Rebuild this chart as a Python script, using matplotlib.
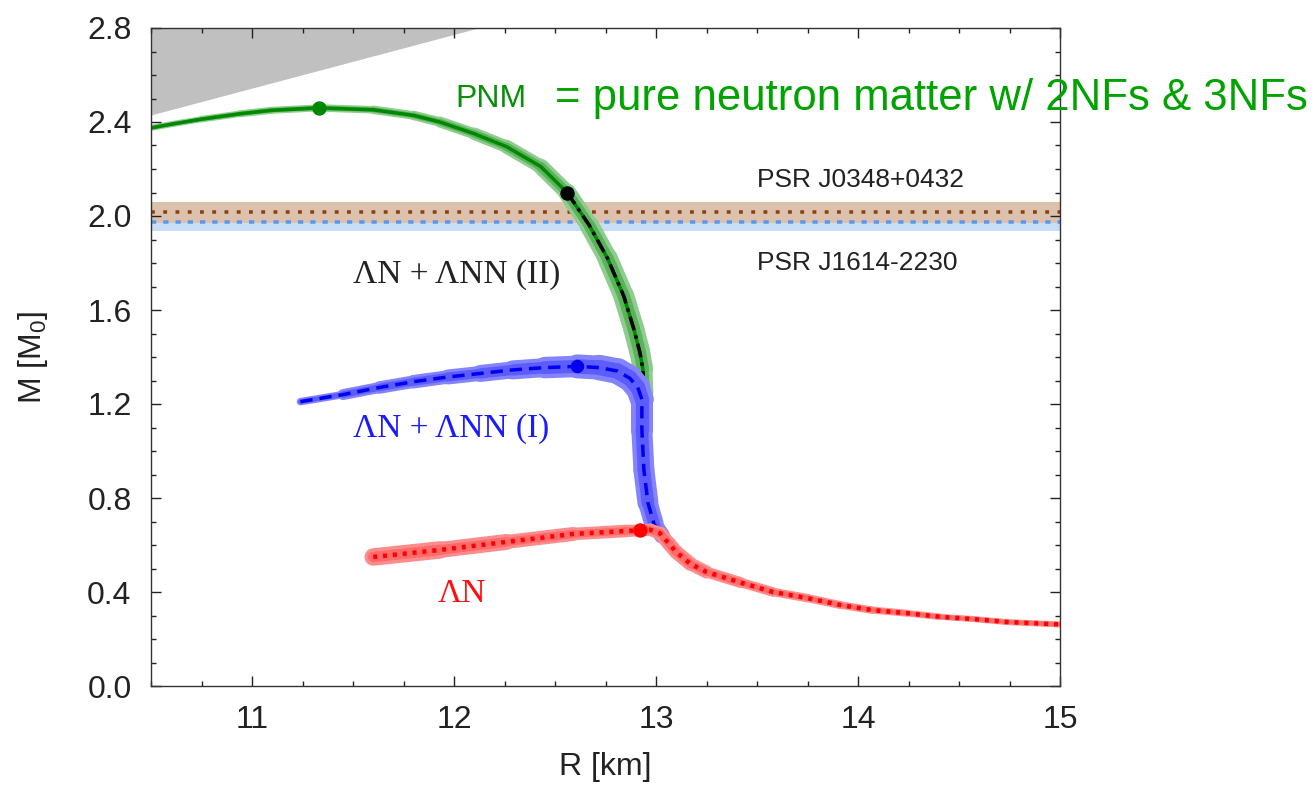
import numpy as np
import matplotlib
matplotlib.use("Agg")
import matplotlib.pyplot as plt
from matplotlib.collections import LineCollection
from matplotlib.ticker import MultipleLocator

plt.rcParams['font.family'] = ['Liberation Sans', 'DejaVu Sans']
plt.rcParams['mathtext.fontset'] = 'custom'
plt.rcParams['mathtext.rm'] = 'Liberation Sans'
plt.rcParams['mathtext.it'] = 'Liberation Sans'

# ---------------- data ----------------
causal_R = [10.5, 12.12]
causal_M = [2.43, 2.80]

psr_names = ["PSR J0348+0432", "PSR J1614-2230"]
psr_mass = [2.015, 1.975]
psr_err = [0.043, 0.040]

# pure neutron matter (PNM)
pnm_R = [10.50, 10.61, 10.75, 10.94, 11.10, 11.33, 11.60, 11.80, 11.93, 12.10,
         12.26, 12.43, 12.56, 12.67, 12.76, 12.84, 12.89, 12.92, 12.935, 12.94,
         12.94, 12.95, 12.97, 13.00, 13.04, 13.08, 13.12, 13.17, 13.25, 13.42,
         13.58, 13.75, 13.91, 14.07, 14.24, 14.41, 14.57, 14.74, 15.00]
pnm_M = [2.375, 2.392, 2.412, 2.435, 2.45, 2.46, 2.452, 2.428, 2.40, 2.35,
         2.295, 2.21, 2.10, 1.96, 1.82, 1.66, 1.52, 1.42, 1.35, 1.25,
         1.10, 0.95, 0.80, 0.70, 0.63, 0.59, 0.555, 0.52, 0.485, 0.44,
         0.40, 0.374, 0.345, 0.323, 0.31, 0.294, 0.285, 0.272, 0.262]
pnm_max = (11.33, 2.46)

# Lambda N + Lambda NN (II)
ln2_R = [12.56, 12.67, 12.76, 12.84, 12.89, 12.92, 12.935, 12.94, 12.94, 12.95,
         12.97, 13.00, 13.04, 13.08, 13.12, 13.17, 13.25, 13.42, 13.58, 13.75,
         13.91, 14.07, 14.24, 14.41, 14.57, 14.74, 15.00]
ln2_M = [2.10, 1.96, 1.82, 1.66, 1.52, 1.42, 1.35, 1.25, 1.10, 0.95,
         0.80, 0.70, 0.63, 0.59, 0.555, 0.52, 0.485, 0.44, 0.40, 0.374,
         0.345, 0.323, 0.31, 0.294, 0.285, 0.272, 0.262]
ln2_onset = (12.56, 2.10)

# Lambda N + Lambda NN (I)
ln1_R = [11.24, 11.45, 11.63, 11.80, 11.97, 12.13, 12.29, 12.45, 12.61, 12.72,
         12.81, 12.87, 12.91, 12.93, 12.93, 12.94, 12.96, 12.99, 13.03, 13.07,
         13.12, 13.17, 13.25, 13.42, 13.58, 13.75, 13.91, 14.07, 14.24, 14.41,
         14.57, 14.74, 15.00]
ln1_M = [1.21, 1.24, 1.27, 1.295, 1.315, 1.33, 1.345, 1.355, 1.36, 1.355,
         1.34, 1.31, 1.27, 1.22, 1.09, 0.92, 0.78, 0.69, 0.64, 0.60,
         0.555, 0.52, 0.485, 0.44, 0.40, 0.374, 0.345, 0.323, 0.31, 0.294,
         0.285, 0.272, 0.262]
ln1_max = (12.61, 1.36)

# Lambda N
ln_R = [11.60, 11.93, 12.26, 12.59, 12.86, 12.92, 12.97, 13.02, 13.06, 13.10,
        13.17, 13.25, 13.42, 13.58, 13.75, 13.91, 14.07, 14.24, 14.41, 14.57,
        14.74, 15.00]
ln_M = [0.549, 0.579, 0.613, 0.647, 0.66, 0.662, 0.665, 0.65, 0.61, 0.57,
        0.52, 0.485, 0.44, 0.40, 0.374, 0.345, 0.323, 0.31, 0.294, 0.285,
        0.272, 0.262]
ln_max = (12.92, 0.662)

# uncertainty band widths (pixels) along each curve
pnm_band = [6, 6, 6, 7, 7, 7, 8, 9, 10, 12, 13, 15, 17, 19, 20, 21, 21, 21, 20, 18,
            16, 14, 12, 10, 9, 8, 8, 7, 7, 6, 6, 5, 5, 5, 5, 5, 5, 5, 5]
ln1_band = [5, 10, 12, 13, 14, 16, 18, 20, 23, 25, 26, 26, 25, 23, 21, 21, 21, 18, 14, 12,
            10, 9, 8, 7, 6, 6, 5, 5, 5, 4, 4, 4, 4]
ln_band = [18, 17, 15, 13, 12, 12, 12, 13, 14, 14, 14, 12, 10, 9, 8, 8, 7, 7, 6, 6,
           6, 6]

# ---------------- figure ----------------
DPI = 100
W, H = 1316, 788
fig = plt.figure(figsize=(W / DPI, H / DPI), dpi=DPI)
ax = fig.add_axes([151 / W, 1 - 686 / H, (1060 - 151) / W, (686 - 28) / H])
PX = 72.0 / DPI


def band(R, M, widths, color, frac, z):
    pts = np.column_stack([R, M])
    segs = np.stack([pts[:-1], pts[1:]], axis=1)
    w = np.asarray(widths, dtype=float)
    lw = 0.5 * (w[:-1] + w[1:]) * frac * PX
    lc = LineCollection(segs, linewidths=lw, colors=color, capstyle='round',
                        joinstyle='round', zorder=z)
    ax.add_collection(lc)


# causality region
ax.fill_between(causal_R, causal_M, 2.8, color='#c0c0c0', lw=0, zorder=0.5)

# pulsar bands
ax.axhspan(psr_mass[1] - psr_err[1], psr_mass[1] + psr_err[1], color='#c9ddf7', lw=0, zorder=0.6)
ax.axhspan(psr_mass[0] - psr_err[0], psr_mass[0] + psr_err[0], color='#dcc2ad', lw=0, zorder=0.7)
ax.axhline(psr_mass[0], color='#8b3f10', lw=3.5 * PX, ls=(0, (1.1, 2.4)), zorder=0.8)
ax.axhline(psr_mass[1], color='#5b96ee', lw=3.5 * PX, ls=(0, (1.5, 2.0)), zorder=0.8)

# PNM
band(pnm_R, pnm_M, pnm_band, '#8fcc8f', 1.0, 1.0)
band(pnm_R, pnm_M, pnm_band, '#5cb25c', 0.6, 1.1)
ax.plot(pnm_R, pnm_M, color='#008800', lw=3.5 * PX, solid_capstyle='butt', zorder=1.2)
ax.plot([pnm_max[0]], [pnm_max[1]], 'o', color='#008800', ms=13 * PX, zorder=1.3)

# Lambda N + Lambda NN (II)
ax.plot(ln2_R, ln2_M, color='black', lw=3.5 * PX, ls=(0, (4, 1.5, 1, 1.5)), zorder=1.4)
ax.plot([ln2_onset[0]], [ln2_onset[1]], 'o', color='black', ms=13 * PX, zorder=1.5)

# Lambda N + Lambda NN (I)
band(ln1_R, ln1_M, ln1_band, '#8484ff', 1.0, 2.0)
band(ln1_R, ln1_M, ln1_band, '#5c5cff', 0.6, 2.1)
ax.plot(ln1_R, ln1_M, color='#0000ee', lw=3.5 * PX, ls=(0, (3.5, 2)), zorder=2.2)
ax.plot([ln1_max[0]], [ln1_max[1]], 'o', color='#0000ee', ms=12 * PX, zorder=2.3)

# Lambda N
band(ln_R, ln_M, ln_band, '#ff8c8c', 1.0, 3.0)
band(ln_R, ln_M, ln_band, '#ff6a6a', 0.6, 3.1)
ax.plot(ln_R, ln_M, color='#ff0000', lw=4.5 * PX, ls=(0, (0.9, 1.3)), zorder=3.2)
ax.plot([ln_max[0]], [ln_max[1]], 'o', color='#ff0000', ms=13 * PX, zorder=3.3)

# ---------------- axes ----------------
ax.set_xlim(10.5, 15)
ax.set_ylim(0, 2.8)
ax.xaxis.set_major_locator(MultipleLocator(1))
ax.xaxis.set_minor_locator(MultipleLocator(0.25))
ax.yaxis.set_major_locator(MultipleLocator(0.4))
ax.yaxis.set_minor_locator(MultipleLocator(0.1))
ax.yaxis.set_major_formatter(matplotlib.ticker.FormatStrFormatter('%.1f'))
ax.set_xticks([11, 12, 13, 14, 15])
ax.tick_params(which='both', direction='in', top=True, right=True, width=1.0,
               colors='#222222')
ax.tick_params(which='major', length=7, labelsize=23, pad=14)
ax.tick_params(which='minor', length=3.5)
ax.tick_params(axis='y', which='major', pad=14)
for s in ax.spines.values():
    s.set_linewidth(1.0)
    s.set_color('#333333')
    s.set_zorder(5)

fig.text(605 / W, 1 - 767 / H, "R [km]", ha='center', va='center', fontsize=23, color='#222222')
fig.text(33 / W, 1 - 357 / H, r"M [M$_\mathrm{0}$]", ha='center', va='center',
         rotation=90, fontsize=23, color='#222222')

# ---------------- annotations ----------------
ax.text(12.005, 2.464, "PNM", color='#0a8f0a', fontsize=23, ha='left', va='baseline', zorder=6)
ax.text(12.5, 2.451, "= pure neutron matter w/ 2NFs & 3NFs", color='#00a300',
        fontsize=31.5, ha='left', va='baseline', zorder=6, clip_on=False)
ax.text(13.5, 2.123, psr_names[0], color='#222222', fontsize=19, ha='left', va='baseline')
ax.text(13.5, 1.770, psr_names[1], color='#222222', fontsize=19, ha='left', va='baseline')
serif = ['Liberation Serif', 'DejaVu Serif']
ax.text(11.5, 1.715, "ΛN + ΛNN (II)", color='#222222', fontsize=24, family=serif,
        ha='left', va='baseline')
ax.text(11.5, 1.06, "ΛN + ΛNN (I)", color='#1a1aff', fontsize=24, family=serif,
        ha='left', va='baseline')
ax.text(11.92, 0.357, "ΛN", color='#ff1010', fontsize=24, family=serif,
        ha='left', va='baseline')

fig.savefig("out.png", dpi=DPI)
